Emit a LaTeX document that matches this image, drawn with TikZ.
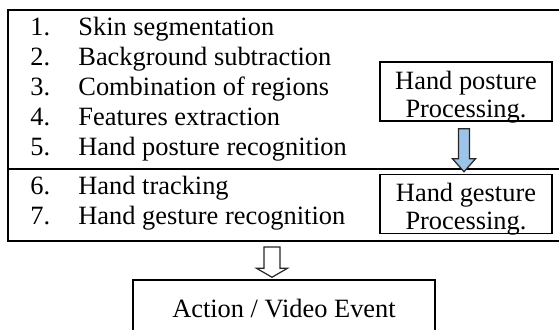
\documentclass[tikz,border=0pt]{standalone}
\usepackage{fontspec}
\setmainfont{Liberation Serif}
\usetikzlibrary{calc}

\definecolor{arrowblue}{HTML}{9DC3E6}

\begin{document}
\begin{tikzpicture}[x=0.5pt,y=-0.5pt,
        procbox/.style={rectangle, draw=black, line width=0.75pt, minimum width=86pt, minimum height=29.5pt, inner sep=0pt},
        actbox/.style={rectangle, draw=black, line width=0.75pt, minimum width=151pt, minimum height=29pt, inner sep=0pt},
        blockarrow/.style={draw=black!85, line width=0.6pt, line join=miter}]
    \tikzstyle{every node}=[font=\fontsize{13.2}{14}\selectfont]
    \tikzstyle{item}=[anchor=base west, inner sep=0pt]
    \useasboundingbox (0,0) rectangle (559,329);

    % main frame, open to the right
    \node[rectangle, draw=black, line width=1pt, minimum width=279pt, minimum height=115.5pt, inner sep=0pt] (frame) at (287,125.5) {};
    \coordinate (split) at (8,169);
    \draw[line width=1pt] (split) -- (split -| frame.east);

    % steps
    \foreach \n/\y/\t in {1/35/Skin segmentation,
                          2/65/Background subtraction,
                          3/95/Combination of regions,
                          4/125/Features extraction,
                          5/155/Hand posture recognition,
                          6/194/Hand tracking,
                          7/224/Hand gesture recognition}
    {
        \node[item] (num\n) at (30,\y) {\n.};
        \node[item] (step\n) at (78,\y) {\t};
    }

    % processing boxes
    \node[procbox] (post) at (466,91.5) {};
    \node[align=center, inner sep=0pt] (posttext) at (466,97) {Hand posture\\Processing.};
    \node[procbox] (gest) at (466,204) {};
    \node[align=center, inner sep=0pt] (gesttext) at (466,209.5) {Hand gesture\\Processing.};

    \node[actbox] (act) at (284,309) {Action / Video Event};

    % posture -> gesture
    \coordinate (pa) at ($(post.south)+(-2,7)$);
    \coordinate (pb) at ($(gest.north)+(-2,-2)$);
    \draw[blockarrow, fill=arrowblue] ($(pa)+(-5.5,0)$) -- ($(pb)+(-5.5,-13)$) -- ($(pb)+(-11.5,-13)$) -- (pb)
        -- ($(pb)+(11.5,-13)$) -- ($(pb)+(5.5,-13)$) -- ($(pa)+(5.5,0)$) -- cycle;

    % frame -> action
    \coordinate (wa) at ($(frame.south)+(-15,5)$);
    \coordinate (wb) at ($(act.north)+(-12,-2)$);
    \draw[blockarrow, fill=white] ($(wa)+(-8,0)$) -- ($(wb)+(-8,-9)$) -- ($(wb)+(-15.5,-9)$) -- (wb)
        -- ($(wb)+(15.5,-9)$) -- ($(wb)+(8,-9)$) -- ($(wa)+(8,0)$) -- cycle;
\end{tikzpicture}
\end{document}
